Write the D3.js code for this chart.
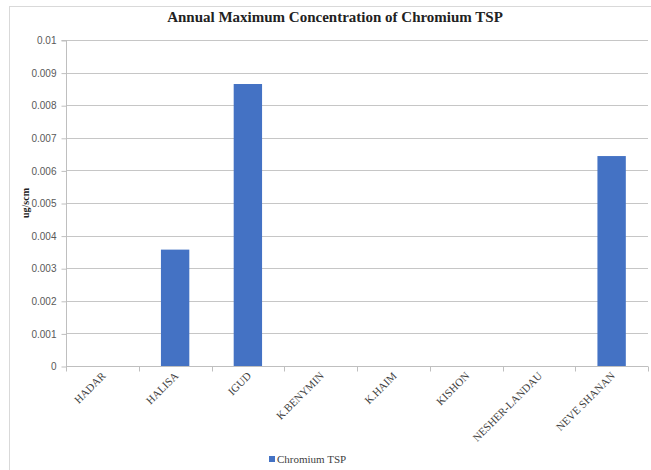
<!DOCTYPE html>
<html>
<head>
<meta charset="utf-8">
<script src="https://cdn.jsdelivr.net/npm/d3@7"></script>
<style>
  html, body { margin: 0; padding: 0; background: #fff; }
  svg { display: block; }
</style>
</head>
<body>
<div id="chart"></div>
<script>
// Monitoring stations and their annual maximum chromium (TSP) readings
const stations = ["HADAR", "HALISA", "IGUD", "K.BENYMIN", "K.HAIM", "KISHON", "NESHER-LANDAU", "NEVE SHANAN"];
const chromiumTSP = [0, 0.00357, 0.00865, 0, 0, 0, 0, 0.00644];
const yTicks = [0, 0.001, 0.002, 0.003, 0.004, 0.005, 0.006, 0.007, 0.008, 0.009, 0.01];
const yTickLabels = ["0", "0.001", "0.002", "0.003", "0.004", "0.005", "0.006", "0.007", "0.008", "0.009", "0.01"];
const seriesName = "Chromium TSP";
const chartTitle = "Annual Maximum Concentration of Chromium TSP";
const yAxisTitle = "ug/scm";

const W = 651, H = 470;
const plot = { left: 66, right: 648, top: 40, bottom: 366 };
const serif = "'Liberation Serif', 'Times New Roman', serif";

const svg = d3.select("#chart").append("svg")
  .attr("width", W).attr("height", H);

// chart frame
svg.append("rect")
  .attr("x", 9.5).attr("y", 6.5)
  .attr("width", W + 10).attr("height", H + 10)
  .attr("fill", "#fff").attr("stroke", "#d9d9d9").attr("stroke-width", 1);

const x = d3.scaleBand().domain(stations).range([plot.left, plot.right]).paddingInner(0).paddingOuter(0);
const y = d3.scaleLinear().domain([0, 0.01]).range([plot.bottom, plot.top]);

// gridlines
svg.append("g")
  .selectAll("line").data(yTicks.filter(d => d > 0)).join("line")
  .attr("x1", plot.left).attr("x2", plot.right)
  .attr("y1", d => Math.round(y(d)) + 0.5).attr("y2", d => Math.round(y(d)) + 0.5)
  .attr("stroke", "#c6c6c6").attr("stroke-width", 1);

// bars
const barW = x.bandwidth() * 0.39;
svg.append("g")
  .selectAll("rect").data(stations.map((s, i) => ({ s, v: chromiumTSP[i] })).filter(d => d.v > 0)).join("rect")
  .attr("x", d => x(d.s) + (x.bandwidth() - barW) / 2)
  .attr("y", d => y(d.v))
  .attr("width", barW)
  .attr("height", d => y(0) - y(d.v))
  .attr("fill", "#4472c4");

// y axis
const yAxis = d3.axisLeft(y)
  .tickValues(yTicks)
  .tickFormat((d, i) => yTickLabels[i])
  .tickSize(5).tickPadding(5);
const gy = svg.append("g").attr("transform", `translate(${plot.left + 0.5},0.5)`).call(yAxis);
gy.select(".domain").attr("stroke", "#bfbfbf").attr("d", `M-5,${y(0.01)}H0V${y(0)}`);
gy.selectAll(".tick line").attr("stroke", "#bfbfbf");
gy.selectAll(".tick text")
  .attr("fill", "#595959")
  .style("font-family", "'Liberation Sans', Arial, sans-serif")
  .style("font-size", "10px");

// x axis with category boundary ticks
const gx = svg.append("g").attr("transform", `translate(0,${plot.bottom + 0.5})`);
gx.append("line")
  .attr("x1", plot.left).attr("x2", plot.right)
  .attr("stroke", "#bfbfbf");
const bounds = stations.map(s => x(s)).concat([plot.right]);
gx.selectAll("line.tk").data(bounds).join("line")
  .attr("class", "tk")
  .attr("x1", d => Math.round(d) + 0.5).attr("x2", d => Math.round(d) + 0.5)
  .attr("y1", 0).attr("y2", 5)
  .attr("stroke", "#bfbfbf");
gx.selectAll("text").data(stations).join("text")
  .attr("transform", d => `translate(${x(d) + x.bandwidth() / 2 + 4},${10}) rotate(-45)`)
  .attr("text-anchor", "end")
  .attr("fill", "#404040")
  .style("font-family", serif)
  .style("font-size", "11px")
  .text(d => d);

// title
svg.append("text")
  .attr("x", 335).attr("y", 22)
  .attr("text-anchor", "middle")
  .attr("fill", "#222")
  .style("font-family", serif)
  .style("font-weight", "bold")
  .style("font-size", "15px")
  .text(chartTitle);

// y axis title
svg.append("text")
  .attr("transform", `translate(29,${(plot.top + plot.bottom) / 2}) rotate(-90)`)
  .attr("text-anchor", "middle")
  .attr("fill", "#222")
  .style("font-family", serif)
  .style("font-weight", "bold")
  .style("font-size", "10px")
  .text(yAxisTitle);

// legend
const lg = svg.append("g").attr("transform", "translate(269,463)");
lg.append("rect").attr("x", 0).attr("y", -7).attr("width", 6).attr("height", 6).attr("fill", "#4472c4");
lg.append("text")
  .attr("x", 8).attr("y", 0)
  .attr("fill", "#404040")
  .style("font-family", serif)
  .style("font-size", "11px")
  .text(seriesName);
</script>
</body>
</html>
